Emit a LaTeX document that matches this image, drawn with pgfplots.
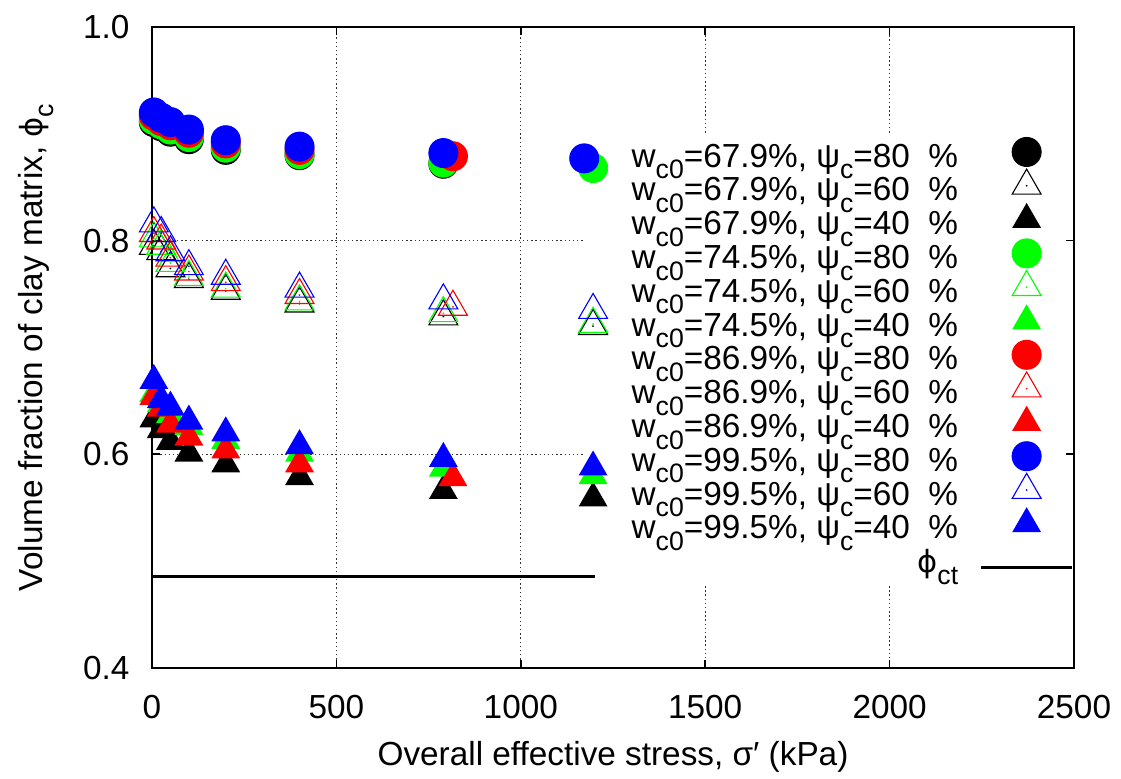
\documentclass[border=0pt]{standalone}
\usepackage{fontspec}
\setmainfont{Liberation Sans}
\newfontfamily\symfont{DejaVu Sans}
\usepackage{pgfplots}
\pgfplotsset{compat=1.18}
\definecolor{gpgreen}{rgb}{0,1,0}
\newcommand{\sub}[1]{\raisebox{-4.2pt}{\fontsize{9.6}{10}\selectfont #1}}
\newcommand{\phis}{{\symfont\fontsize{11}{12}\selectfont ϕ}}

% gnuplot-like triangles (open one with a centre dot)
\pgfdeclareplotmark{gtri}{%
  \pgfpathmoveto{\pgfqpointpolar{90}{\pgfplotmarksize}}%
  \pgfpathlineto{\pgfqpointpolar{210}{\pgfplotmarksize}}%
  \pgfpathlineto{\pgfqpointpolar{330}{\pgfplotmarksize}}%
  \pgfpathclose\pgfusepathqstroke
  \pgfpathcircle{\pgfpointorigin}{0.35pt}\pgfusepathqfill}
\pgfdeclareplotmark{gtrif}{%
  \pgfpathmoveto{\pgfqpointpolar{90}{\pgfplotmarksize}}%
  \pgfpathlineto{\pgfqpointpolar{210}{\pgfplotmarksize}}%
  \pgfpathlineto{\pgfqpointpolar{330}{\pgfplotmarksize}}%
  \pgfpathclose\pgfusepathqfill}

\pgfplotsset{
  circ/.style={only marks, mark=*, mark size=5.2pt, mark options={draw=none}},
  otri/.style={only marks, mark=gtri, mark size=6pt, mark options={line width=0.4pt}},
  ftri/.style={only marks, mark=gtrif, mark size=6pt},
  keymark/.style={legend image code/.code={\path[draw=none,fill=none] (0pt,0pt) -- (33pt,0pt);
    \path[##1] plot coordinates {(16.5pt,0pt)};}},
  keyline/.style={legend image code/.code={\draw[##1] (0pt,-3.4pt) -- (33pt,-3.4pt);}},
}

\begin{document}
\fontsize{12}{14}\selectfont
\begin{tikzpicture}
\useasboundingbox (0,0) rectangle (403.56pt,280.44pt);
\begin{axis}[
  at={(54.72pt,39.96pt)}, anchor=south west,
  scale only axis, width=331.92pt, height=230.76pt,
  xmin=0, xmax=2500, ymin=0.4, ymax=1.0,
  xtick={0,500,1000,1500,2000,2500}, ytick={0.4,0.6,0.8,1.0},
  tick align=inside, major tick length=3pt,
  axis line style={line width=0.8pt}, every tick/.style={black, line width=0.6pt},
  /pgf/number format/assume math mode=true,
  xticklabel style={/pgf/number format/1000 sep={}, yshift=-5.7pt},
  yticklabel style={/pgf/number format/fixed, /pgf/number format/fixed zerofill,
    /pgf/number format/precision=1, xshift=-3.9pt},
  xlabel={Overall effective stress, σ′ (kPa)},
  xlabel style={at={(axis description cs:0.5,-0.152)}, anchor=base},
  ylabel={Volume fraction of clay matrix, \phis\sub{c}},
  ylabel style={at={(axis description cs:-0.119,0.5)}, anchor=base},
  clip=false, axis on top,
  legend plot pos=right, legend cell align=right,
  legend style={draw=none, fill=none, at={(1,0.8314)}, anchor=north east,
    inner sep=0pt, outer sep=0pt, column sep=7.6pt, row sep=0pt,
    cells={anchor=east},
    nodes={inner xsep=0pt, inner ysep=0pt, text height=11.5pt, text depth=0.67pt}},
  keymark,
]
% grid, interrupted by the key
\draw[black!80, line width=0.4pt, dash pattern=on 0.5pt off 1pt]
  (0,0.6) -- (1169,0.6) (0,0.8) -- (1169,0.8)
  (500,0.4) -- (500,1.0) (1000,0.4) -- (1000,1.0)
  (1500,1.0) -- (1500,0.901) (1500,0.4766) -- (1500,0.4)
  (2000,1.0) -- (2000,0.901) (2000,0.4766) -- (2000,0.4);

% wc0 = 67.9 %
\addplot[black, circ] coordinates {(5,0.911)(25,0.907)(50,0.902)(100,0.895)(200,0.885)(400,0.880)(790,0.872)};
\addlegendentry{w\sub{c0}=67.9\%, ψ\sub{c}=80~~\%}
\addplot[black, otri] coordinates {(5,0.795)(25,0.790)(50,0.774)(100,0.764)(200,0.753)(400,0.741)(790,0.729)(1196,0.720)};
\addlegendentry{w\sub{c0}=67.9\%, ψ\sub{c}=60~~\%}
\addplot[black, ftri] coordinates {(5,0.633)(25,0.623)(50,0.612)(100,0.601)(200,0.591)(400,0.579)(790,0.566)(1196,0.559)};
\addlegendentry{w\sub{c0}=67.9\%, ψ\sub{c}=40~~\%}
% wc0 = 74.5 %
\addplot[gpgreen, circ] coordinates {(5,0.913)(25,0.909)(50,0.904)(100,0.897)(200,0.887)(400,0.881)(790,0.873)(1196,0.868)};
\addlegendentry{w\sub{c0}=74.5\%, ψ\sub{c}=80~~\%}
\addplot[gpgreen, otri] coordinates {(5,0.802)(25,0.795)(50,0.779)(100,0.766)(200,0.755)(400,0.743)(790,0.732)(1196,0.722)};
\addlegendentry{w\sub{c0}=74.5\%, ψ\sub{c}=60~~\%}
\addplot[gpgreen, ftri] coordinates {(5,0.657)(25,0.647)(50,0.637)(100,0.626)(200,0.613)(400,0.601)(790,0.587)(1196,0.580)};
\addlegendentry{w\sub{c0}=74.5\%, ψ\sub{c}=40~~\%}
% wc0 = 86.9 %
\addplot[red, circ] coordinates {(5,0.917)(25,0.912)(50,0.908)(100,0.901)(200,0.891)(400,0.885)(816,0.879)};
\addlegendentry{w\sub{c0}=86.9\%, ψ\sub{c}=80~~\%}
\addplot[red, otri] coordinates {(5,0.807)(25,0.800)(50,0.784)(100,0.771)(200,0.761)(400,0.749)(816,0.738)};
\addlegendentry{w\sub{c0}=86.9\%, ψ\sub{c}=60~~\%}
\addplot[red, ftri] coordinates {(5,0.654)(25,0.643)(50,0.628)(100,0.616)(200,0.604)(400,0.591)(816,0.578)};
\addlegendentry{w\sub{c0}=86.9\%, ψ\sub{c}=40~~\%}
% wc0 = 99.5 %
\addplot[blue, circ] coordinates {(5,0.920)(25,0.915)(50,0.911)(100,0.904)(200,0.894)(400,0.888)(790,0.882)(1172,0.877)};
\addlegendentry{w\sub{c0}=99.5\%, ψ\sub{c}=80~~\%}
\addplot[blue, otri] coordinates {(5,0.816)(25,0.807)(50,0.789)(100,0.776)(200,0.767)(400,0.755)(790,0.744)(1196,0.735)};
\addlegendentry{w\sub{c0}=99.5\%, ψ\sub{c}=60~~\%}
\addplot[blue, ftri] coordinates {(5,0.669)(25,0.651)(50,0.644)(100,0.631)(200,0.620)(400,0.608)(790,0.596)(1196,0.588)};
\addlegendentry{w\sub{c0}=99.5\%, ψ\sub{c}=40~~\%}
% threshold
\addplot[black, line width=1.1pt, mark=none, keyline] coordinates {(0,0.486)(1200,0.486)};
\addlegendentry{\phis\sub{ct}}
\end{axis}
\end{tikzpicture}
\end{document}
